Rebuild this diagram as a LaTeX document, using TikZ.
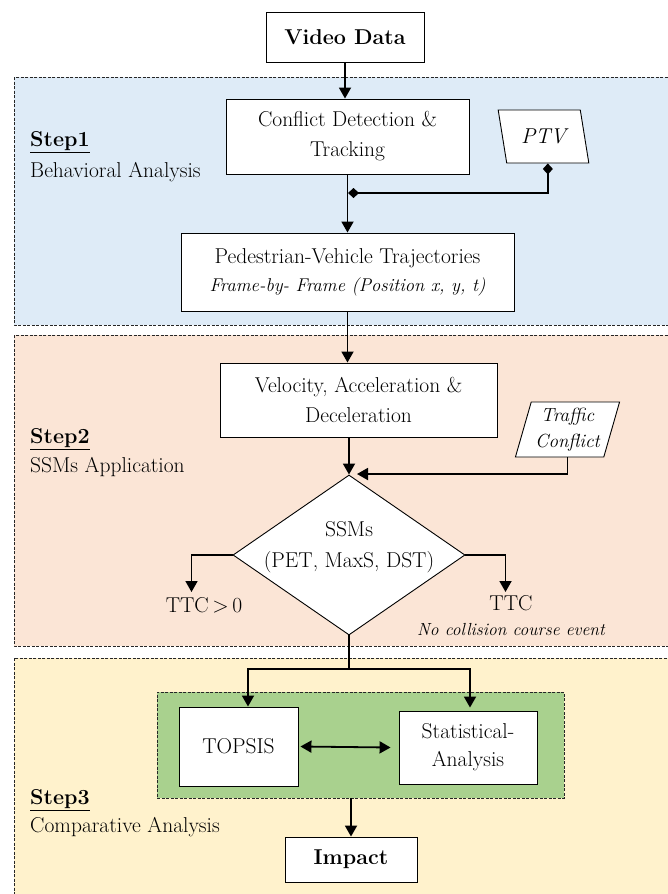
\documentclass[tikz,border=0pt]{standalone}
\usepackage{fontspec}
\usetikzlibrary{shapes.geometric,arrows.meta,calc}
\definecolor{bluebg}{HTML}{DEEBF7}
\definecolor{orangebg}{HTML}{FBE5D6}
\definecolor{yellowbg}{HTML}{FFF2CC}
\definecolor{greenbg}{HTML}{A9D18E}
\newcommand\fmain{\fontsize{21.5}{30}\selectfont}
\newcommand\fsmall{\fontsize{17.5}{20}\selectfont}
\begin{document}
\begin{tikzpicture}[x=1pt,y=-1pt,
  box/.style={draw=black, fill=white, line width=0.9pt, align=center, inner sep=0pt, font=\fmain},
  region/.style={draw=black!85, dash pattern=on 3pt off 1.5pt, line width=0.6pt},
  para/.style={trapezium, draw=black, fill=white, line width=0.9pt, trapezium stretches=true, inner sep=0pt, align=center},
  tip/.tip={Triangle[length=11pt,width=12pt]},
  dtip/.tip={Diamond[length=11pt,width=10pt]},
  arr/.style={line width=1.8pt, -tip},
  ln/.style={line width=1.8pt},
  steplbl/.style={anchor=west, inner sep=0pt, font=\fontsize{21.5}{26}\selectfont},
  lbl/.style={inner sep=0pt, font=\fmain}
]
\useasboundingbox (0,0) rectangle (667,894);
% regions
\draw[region, fill=bluebg] (14,77) rectangle (680,325);
\draw[region, fill=orangebg] (14,335) rectangle (680,646);
\draw[region, fill=yellowbg] (14,658) rectangle (680,910);
\node[draw=black!85, dash pattern=on 3pt off 1.5pt, line width=0.6pt, fill=greenbg, minimum width=407pt, minimum height=106pt, inner sep=0pt] (grp) at (360.5,745) {};

% step labels
\node[steplbl] (s1) at (30,142) {\underline{\textbf{Step1}}};
\node[steplbl] (s1b) at (30,172) {Behavioral Analysis};
\node[steplbl] (s2) at (30,439) {\underline{\textbf{Step2}}};
\node[steplbl] (s2b) at (30,467) {SSMs Application};
\node[steplbl] (s3) at (30,800) {\underline{\textbf{Step3}}};
\node[steplbl] (s3b) at (30,827) {Comparative Analysis};

% nodes
\node[box, font=\fmain\bfseries, minimum width=158pt, minimum height=50pt] (video) at (345,37) {Video Data};
\node[box, minimum width=243pt, minimum height=75pt] (conf) at (347.5,136.5) {Conflict Detection \&\\Tracking};
\node[para, trapezium left angle=109, trapezium right angle=71, minimum width=91pt, minimum height=53pt, font=\fmain\itshape] (ptv) at (543.5,136.5) {PTV};
\node[box, minimum width=333pt, minimum height=78pt] (ped) at (347.5,272) {Pedestrian-Vehicle Trajectories\\[-2pt]{\fontsize{18.5}{20}\selectfont\itshape Frame-by- Frame (Position x, y, t)}};
\node[box, minimum width=277pt, minimum height=74pt] (vel) at (358.5,400) {Velocity, Acceleration \&\\Deceleration};
\node[para, trapezium left angle=72, trapezium right angle=108, minimum width=105pt, minimum height=55pt, font=\fontsize{19}{26}\selectfont\itshape] (tc) at (567.5,429.5) {Traffic\\Conflict};
\node[diamond, draw=black, fill=white, line width=0.9pt, minimum width=232pt, minimum height=160pt, aspect=1.45, inner sep=0pt,
  label={[align=center, font=\fontsize{21.5}{31}\selectfont, yshift=8pt]center:{SSMs\\(PET, MaxS, DST)}}] (dia) at (349,555) {};
\node[lbl] (ttc0) at (204,605) {TTC\,>\,0};
\node[lbl] (ttc) at (511,603) {TTC};
\node[inner sep=0pt, font=\fsmall\itshape] (nocol) at (511,630) {No collision course event};
\node[box, minimum width=119pt, minimum height=79pt] (topsis) at (238.5,746.5) {TOPSIS};
\node[box, minimum width=138pt, minimum height=73pt, font=\fontsize{21.5}{28}\selectfont] (stat) at (468,747.5) {Statistical-\\Analysis};
\node[box, font=\fmain\bfseries, minimum width=132pt, minimum height=45pt] (impact) at (351,859.5) {Impact};

% coordinates
\coordinate (junc) at (348,193);
\coordinate (tcin) at (357,474);
\coordinate (lt) at (191.5,592);
\coordinate (rt) at (505.5,592);
\coordinate (split) at (349,669);

% connectors
\draw[arr] (video.south) -- (video.south |- conf.north);
\draw[arr] (conf.south) -- (conf.south |- ped.north);
\draw[ln, dtip-dtip] (ptv.bottom side) |- (junc);
\draw[arr] (ped.south) -- (ped.south |- vel.north);
\draw[arr] (vel.south -| dia.north) -- (dia.north);
\draw[arr] (tc.south) |- (tcin);
\draw[arr] (dia.west) -| (lt);
\draw[arr] (dia.east) -| (rt);
\draw[ln] (dia.south) -- (split);
\draw[arr] (split) -| ([xshift=9.5pt]topsis.north);
\draw[arr] (split) -| ([xshift=2pt,yshift=3pt]stat.north);
\draw[ln, tip-tip] ([xshift=2pt]topsis.east) -- ([xshift=-8pt]stat.west);
\draw[arr] (impact.north |- grp.south) -- (impact.north);
\end{tikzpicture}
\end{document}
